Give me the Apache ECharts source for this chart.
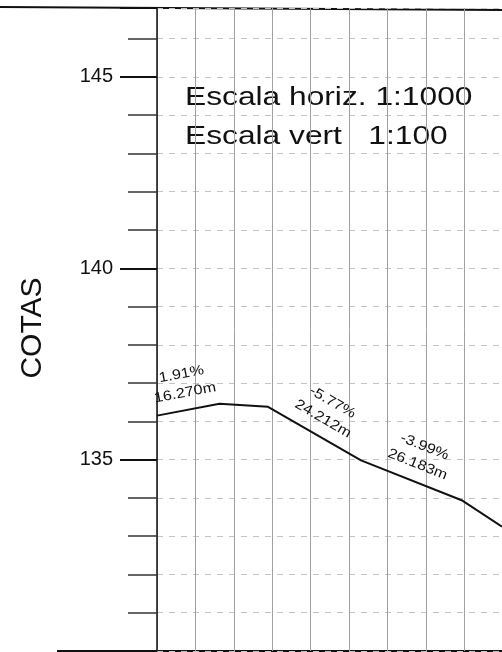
<!DOCTYPE html>
<html>
<head>
<meta charset="UTF-8">
<title>Perfil longitudinal</title>
<script src="https://cdn.jsdelivr.net/npm/echarts@6/dist/echarts.min.js"></script>
<style>
  html, body { margin: 0; padding: 0; background: #fff; }
  #main { width: 502px; height: 652px; }
</style>
</head>
<body>
<div id="main"></div>
<script>
// distancias (m) y cotas (m) del perfil
var distancias = [0, 16.27, 28.9, 53.11, 79.29, 89.8];
var cotas = [136.15, 136.46, 136.38, 134.98, 133.94, 133.25];

// tramos rotulados (indice del tramo), pendiente y longitud
var tramosRotulados = [0, 2, 3];
var pendientes = ['1.91%', '-5.77%', '-3.99%'];
var longitudes = ['16.270m', '24.212m', '26.183m'];

var cotasRotuladas = [135, 140, 145];

var fuente = '"Liberation Sans", Arial, sans-serif';

var perfil = [];
for (var i = 0; i < distancias.length; i++) {
  perfil.push([distancias[i], cotas[i]]);
}

var rotulos = [];
for (var j = 0; j < tramosRotulados.length; j++) {
  var k = tramosRotulados[j];
  rotulos.push([distancias[k], cotas[k], distancias[k + 1], cotas[k + 1], pendientes[j], longitudes[j]]);
}

var chart = echarts.init(document.getElementById('main'));

var option = {
  backgroundColor: '#fff',
  animation: false,
  grid: { left: 157, right: 0, top: 8, bottom: 1 },
  xAxis: {
    type: 'value',
    min: 0,
    max: 89.8,
    interval: 10,
    axisLine: { show: false },
    axisTick: { show: false },
    axisLabel: { show: false },
    splitLine: { show: true, lineStyle: { color: '#a0a0a0', width: 1 } }
  },
  yAxis: [{
    // divisiones menores
    type: 'value',
    min: 130,
    max: 146.8,
    interval: 1,
    position: 'left',
    axisLine: { show: true, lineStyle: { color: '#111', width: 1.5 } },
    axisTick: { show: true, length: 29, lineStyle: { color: '#333', width: 1.5 } },
    axisLabel: { show: false },
    splitLine: { show: true, lineStyle: { color: '#c4c4c4', width: 1, type: [6, 6] } }
  }, {
    // divisiones principales con rotulos
    type: 'value',
    min: 130,
    max: 146.8,
    interval: 5,
    position: 'left',
    axisLine: { show: false },
    axisTick: { show: true, length: 37, lineStyle: { color: '#111', width: 2 } },
    axisLabel: {
      show: true,
      margin: 44,
      fontSize: 20,
      fontFamily: fuente,
      color: '#111',
      formatter: function (v) {
        return cotasRotuladas.indexOf(v) >= 0 ? String(v) : '';
      }
    },
    splitLine: { show: false }
  }],
  series: [{
    type: 'line',
    data: perfil,
    symbol: 'none',
    lineStyle: { color: '#111', width: 2 },
    z: 5
  }, {
    type: 'custom',
    data: rotulos,
    z: 6,
    renderItem: function (params, api) {
      var p0 = api.coord([api.value(0), api.value(1)]);
      var p1 = api.coord([api.value(2), api.value(3)]);
      var ang = Math.atan2(p1[1] - p0[1], p1[0] - p0[0]);
      var mx = (p0[0] + p1[0]) / 2;
      var my = (p0[1] + p1[1]) / 2;
      var d = rotulos[params.dataIndex];
      return {
        type: 'group',
        x: mx,
        y: my,
        rotation: -ang,
        children: [{
          type: 'text',
          x: 0, y: -36,
          scaleX: 1.15,
          style: { text: d[4], fontSize: 14, fontFamily: fuente, fill: '#111', align: 'center', verticalAlign: 'middle' }
        }, {
          type: 'text',
          x: 0, y: -17,
          scaleX: 1.15,
          style: { text: d[5], fontSize: 14, fontFamily: fuente, fill: '#111', align: 'center', verticalAlign: 'middle' }
        }]
      };
    }
  }],
  graphic: [{
    type: 'line',
    shape: { x1: 0, y1: 7, x2: 502, y2: 10 },
    style: { stroke: '#111', lineWidth: 2 }
  }, {
    type: 'line',
    shape: { x1: 57, y1: 651, x2: 502, y2: 651 },
    style: { stroke: '#111', lineWidth: 2 }
  }, {
    type: 'text',
    x: 185, y: 98,
    scaleX: 1.22,
    style: { text: 'Escala horiz. 1:1000', fontSize: 26, fontFamily: fuente, fill: '#111', verticalAlign: 'middle' }
  }, {
    type: 'text',
    x: 185, y: 137,
    scaleX: 1.22,
    style: { text: 'Escala vert   1:100', fontSize: 26, fontFamily: fuente, fill: '#111', verticalAlign: 'middle' }
  }, {
    type: 'text',
    x: 33, y: 328,
    rotation: Math.PI / 2,
    style: { text: 'COTAS', fontSize: 30, fontFamily: fuente, fill: '#111', align: 'center', verticalAlign: 'middle' }
  }]
};

chart.setOption(option);
</script>
</body>
</html>
